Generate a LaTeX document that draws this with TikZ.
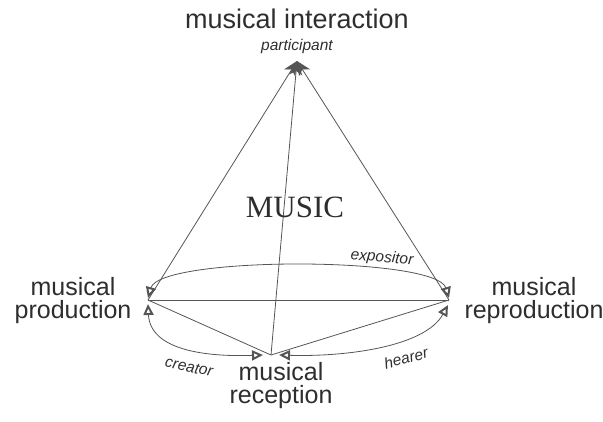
\documentclass[tikz,border=0pt]{standalone}
\usepackage{fontspec}
\setmainfont{Liberation Sans}
\newfontfamily\serifface{Liberation Serif}
\usetikzlibrary{arrows.meta}
\definecolor{ink}{HTML}{2E2E2E}
\definecolor{wire}{HTML}{555555}
\begin{document}
\begin{tikzpicture}[x=1pt,y=-1pt,
  wirestyle/.style={draw=wire, line width=0.8pt},
  apex/.style={wirestyle, -{Stealth[length=14pt,width=13pt,inset=4pt]}},
  opentip/.style={wirestyle, {Triangle[open,length=11pt,width=10pt,line width=2pt]}-{Triangle[open,length=11pt,width=10pt,line width=2pt]}},
  bigtext/.style={text=ink, font=\fontsize{25}{25}\selectfont, align=center, inner sep=0pt},
  roletext/.style={text=ink, font=\fontsize{15.5}{15.5}\selectfont\itshape, inner sep=0pt}]
\useasboundingbox (0,0) rectangle (603,421);
% vertices of the tetrahedron
\coordinate (T) at (297,61);
\coordinate (L) at (148,300);
\coordinate (R) at (449,300);
\coordinate (B) at (271,355);
\coordinate (Lu) at (148,298);
\coordinate (Ld) at (148,304);
\coordinate (Ru) at (449,298);
\coordinate (Rd) at (448,305);
\coordinate (Bl) at (263,355);
\coordinate (Br) at (279,355);
% straight edges
\draw[wirestyle] (L) -- (R);
\draw[wirestyle] (L) -- (B);
\draw[wirestyle] (B) -- (R);
\draw[apex] (L) -- (T);
\draw[apex] (R) -- (T);
\draw[apex] (B) -- (T);
% curved relations
\draw[opentip] (Lu) .. controls (160,256) and (436,256) .. (Ru);
\draw[opentip] (Ld) .. controls (150,350) and (205,357) .. (Bl);
\draw[opentip] (Br) .. controls (345,357) and (425,347) .. (Rd);
% labels
\node[bigtext, font=\fontsize{27}{27}\selectfont] (inter) at (297,19) {musical interaction};
\node[roletext] (part) at (297,46) {participant};
\node[text=ink, font=\serifface\fontsize{31}{31}\selectfont, inner sep=0pt] (music) at (295,207) {MUSIC};
\node[bigtext] (prod) at (73,301) {musical\\[-2pt]production};
\node[bigtext] (repr) at (534,301) {musical\\[-2pt]reproduction};
\node[bigtext] (recp) at (281,386) {musical\\[-2pt]reception};
\node[roletext, rotate=-5] (expo) at (382,258) {expositor};
\node[roletext, rotate=-12] (crea) at (189,367) {creator};
\node[roletext, rotate=15] (hear) at (406,358) {hearer};
\end{tikzpicture}
\end{document}
